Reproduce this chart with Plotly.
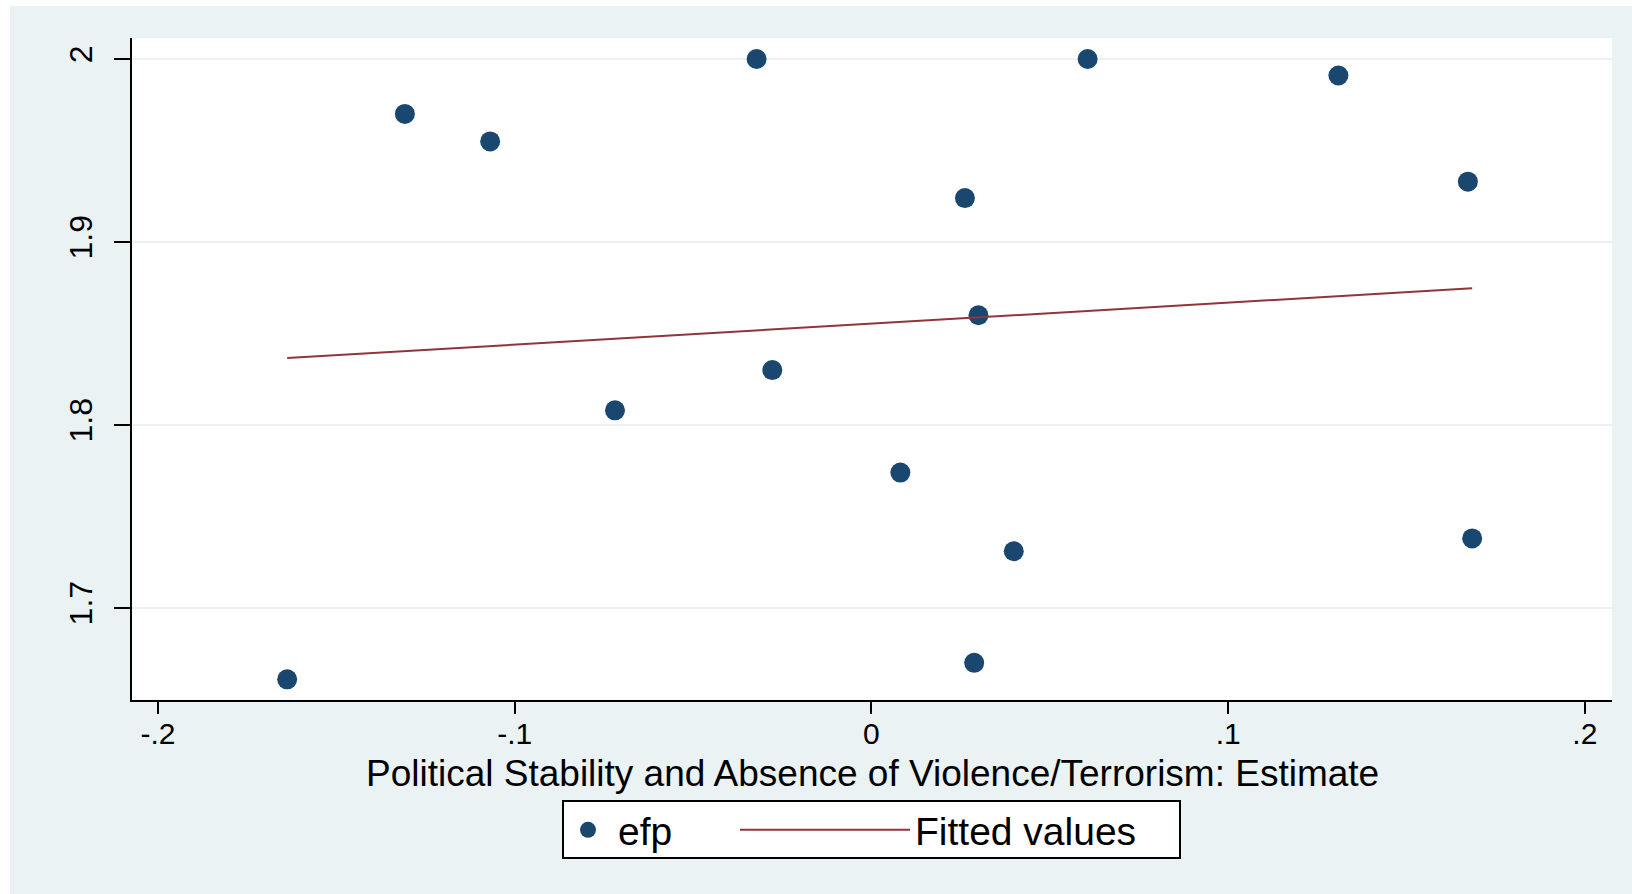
import plotly.graph_objects as go

# Political stability estimate (x) vs. efp (y)
pol_stability = [-0.1638, -0.1308, -0.1069, -0.0719, -0.0322, -0.0278, 0.0081,
                 0.0262, 0.0300, 0.0288, 0.0399, 0.0606, 0.1309, 0.1672, 0.1684]
efp = [1.661, 1.970, 1.955, 1.808, 2.000, 1.830, 1.774,
       1.924, 1.860, 1.670, 1.731, 2.000, 1.991, 1.933, 1.738]

# Linear fit, drawn between the extreme x values
fit_x = [-0.1638, 0.1684]
fit_y = [1.8366, 1.8747]

x_ticks = [-0.2, -0.1, 0, 0.1, 0.2]
x_tick_text = ["-.2", "-.1", "0", ".1", ".2"]
y_ticks = [1.7, 1.8, 1.9, 2.0]
y_tick_text = ["1.7", "1.8", "1.9", "2"]

NAVY = "#1a476f"
MAROON = "#90353b"
BG = "#eaf2f3"
FONT = "Liberation Sans, Arial, sans-serif"

fig = go.Figure()
fig.add_trace(go.Scatter(
    x=pol_stability, y=efp, mode="markers", name="efp", legend="legend",
    marker=dict(color=NAVY, size=20, line=dict(width=0)),
))
fig.add_trace(go.Scatter(
    x=fit_x, y=fit_y, mode="lines", name="Fitted values", legend="legend2",
    line=dict(color=MAROON, width=2),
))

W, H = 1632, 894
ML, MR, MT, MB = 132, 20, 38, 194
pw, ph = W - ML - MR, H - MT - MB


def px_x(p):
    return (p - ML) / pw


def px_y(p):
    return (H - MB - p) / ph


shapes = [
    # white strips along the top and left edges of the page
    dict(type="rect", xref="paper", yref="paper", layer="below",
         x0=px_x(0), x1=px_x(10), y0=px_y(H), y1=px_y(0),
         fillcolor="white", line=dict(width=0)),
    dict(type="rect", xref="paper", yref="paper", layer="below",
         x0=px_x(0), x1=px_x(W), y0=px_y(6), y1=px_y(0),
         fillcolor="white", line=dict(width=0)),
    # frame around the key
    dict(type="rect", xref="paper", yref="paper", layer="below",
         x0=px_x(563), x1=px_x(1180), y0=px_y(858), y1=px_y(801),
         fillcolor="white", line=dict(color="black", width=2)),
]

legend_common = dict(
    orientation="h", yanchor="middle", y=px_y(830),
    bgcolor="rgba(0,0,0,0)", borderwidth=0,
    font=dict(size=39),
)

fig.update_layout(
    width=W, height=H,
    margin=dict(l=ML, r=MR, t=MT, b=MB),
    paper_bgcolor=BG, plot_bgcolor="white",
    font=dict(family=FONT, size=32, color="black"),
    shapes=shapes,
    annotations=[dict(
        text="Political Stability and Absence of Violence/Terrorism: Estimate",
        xref="paper", yref="paper", x=0.5, y=px_y(773),
        xanchor="center", yanchor="middle", showarrow=False, borderpad=0,
        font=dict(size=37),
    )],
    xaxis=dict(
        range=[-0.2073, 0.2076], tickvals=x_ticks, ticktext=x_tick_text,
        showgrid=False, zeroline=False,
        showline=True, linecolor="black", linewidth=2,
        ticks="outside", ticklen=12, tickwidth=2, tickcolor="black",
        tickfont=dict(size=30), ticklabelstandoff=-6,
    ),
    yaxis=dict(
        range=[1.6497, 2.0115], tickvals=y_ticks, ticktext=y_tick_text,
        showgrid=True, gridcolor=BG, gridwidth=2, zeroline=False,
        showline=True, linecolor="black", linewidth=2,
        ticks="outside", ticklen=16, tickwidth=2, tickcolor="black",
        tickangle=-90, tickfont=dict(size=32), ticklabelstandoff=9,
    ),
    legend=dict(legend_common, x=px_x(558), xanchor="left", itemwidth=50),
    legend2=dict(legend_common, x=px_x(735), xanchor="left", itemwidth=170),
    showlegend=True,
)

fig.write_html("out.html")
